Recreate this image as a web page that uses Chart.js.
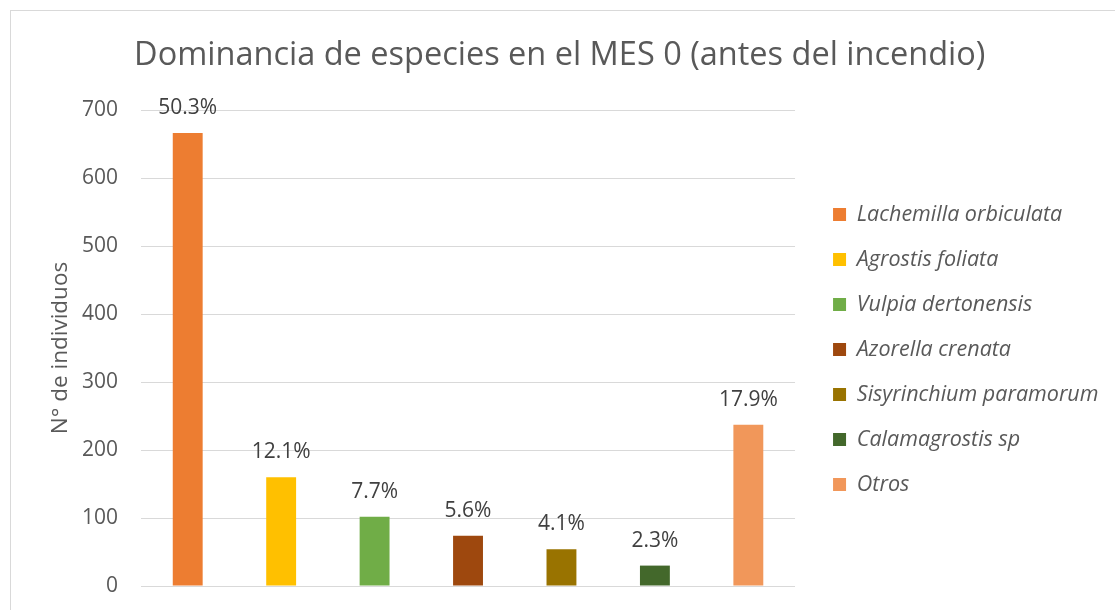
<!DOCTYPE html>
<html>
<head>
<meta charset="utf-8">
<script src="https://cdn.jsdelivr.net/npm/chart.js@4.4.0/dist/chart.umd.min.js"></script>
<style>
  html, body { margin: 0; padding: 0; background: #ffffff; overflow: hidden; }
  #wrap { position: absolute; left: 10px; top: 10px; width: 1105px; height: 600px;
          border-left: 1px solid #d9d9d9; border-top: 1px solid #d9d9d9; }
  canvas { display: block; }
</style>
</head>
<body>
<div id="wrap"><canvas id="c" width="1104" height="599"></canvas></div>
<script>
const species = ["Lachemilla orbiculata", "Agrostis foliata", "Vulpia dertonensis", "Azorella crenata", "Sisyrinchium paramorum", "Calamagrostis sp", "Otros"];
const counts = [666, 160, 102, 74, 54, 30, 237];
const percentLabels = ["50.3%", "12.1%", "7.7%", "5.6%", "4.1%", "2.3%", "17.9%"];
const barColors = ["#ED7D31", "#FFC000", "#70AD47", "#9E480E", "#997300", "#43682B", "#F1975A"];
const yTicks = [0, 100, 200, 300, 400, 500, 600, 700];

const FONT = "'Open Sans', sans-serif";

const pctLabelPlugin = {
  id: 'pctLabels',
  afterDatasetsDraw(chart) {
    const ctx = chart.ctx;
    const meta = chart.getDatasetMeta(0);
    ctx.save();
    ctx.font = "21px " + FONT;
    ctx.fillStyle = "#404040";
    ctx.textAlign = "center";
    ctx.textBaseline = "middle";
    meta.data.forEach((bar, i) => {
      ctx.fillText(percentLabels[i], bar.x, bar.y - 25);
    });
    ctx.restore();
  }
};

new Chart(document.getElementById('c'), {
  type: 'bar',
  data: {
    labels: species,
    datasets: [{
      label: 'N° de individuos',
      data: counts,
      backgroundColor: barColors,
      borderWidth: 0,
      categoryPercentage: 1.0,
      barPercentage: 0.32,
      yAxisID: 'y'
    }]
  },
  options: {
    responsive: false,
    animation: false,
    layout: { padding: { left: 0, right: 6.5, top: 0, bottom: 0 } },
    plugins: {
      title: {
        display: true,
        text: 'Dominancia de especies en el MES 0 (antes del incendio)',
        color: '#595959',
        font: { family: FONT, size: 32.5, weight: '400' },
        padding: { top: 25, bottom: 35 }
      },
      legend: {
        display: true,
        position: 'right',
        maxWidth: 304.5,
        title: {
          display: true,
          text: ' ',
          font: { family: FONT, size: 10 },
          padding: { top: 66, bottom: 0 }
        },
        labels: {
          color: '#595959',
          font: { family: FONT, size: 21.5, style: 'italic' },
          boxWidth: 13,
          boxHeight: 13,
          padding: 23.5,
          generateLabels: () => species.map((s, i) => ({
            text: s,
            fillStyle: barColors[i],
            strokeStyle: barColors[i],
            lineWidth: 0,
            hidden: false,
            index: i,
            fontColor: '#595959'
          }))
        }
      },
      tooltip: { enabled: false }
    },
    scales: {
      x: {
        grid: { display: false, drawTicks: false },
        border: { display: false },
        ticks: { display: false },
        afterFit: (s) => { s.height = 24; }
      },
      y: {
        min: 0,
        max: 700,
        afterBuildTicks: (s) => { s.ticks = yTicks.map(v => ({ value: v })); },
        grid: { color: '#d9d9d9', lineWidth: 1, drawTicks: true, tickLength: 23, tickColor: 'rgba(0,0,0,0)' },
        border: { display: false },
        ticks: { color: '#595959', font: { family: FONT, size: 21 }, padding: 0 },
        title: {
          display: true,
          text: 'N° de individuos',
          color: '#595959',
          font: { family: FONT, size: 22.5 },
          padding: { top: 36, bottom: 0 }
        },
        afterFit: (s) => { s.width = 130; }
      },
      gap: {
        type: 'linear',
        position: 'right',
        display: true,
        grid: { display: false, drawTicks: false },
        border: { display: false },
        ticks: { display: false },
        afterFit: (s) => { s.width = 14.5; }
      }
    }
  },
  plugins: [pctLabelPlugin]
});
</script>
</body>
</html>
